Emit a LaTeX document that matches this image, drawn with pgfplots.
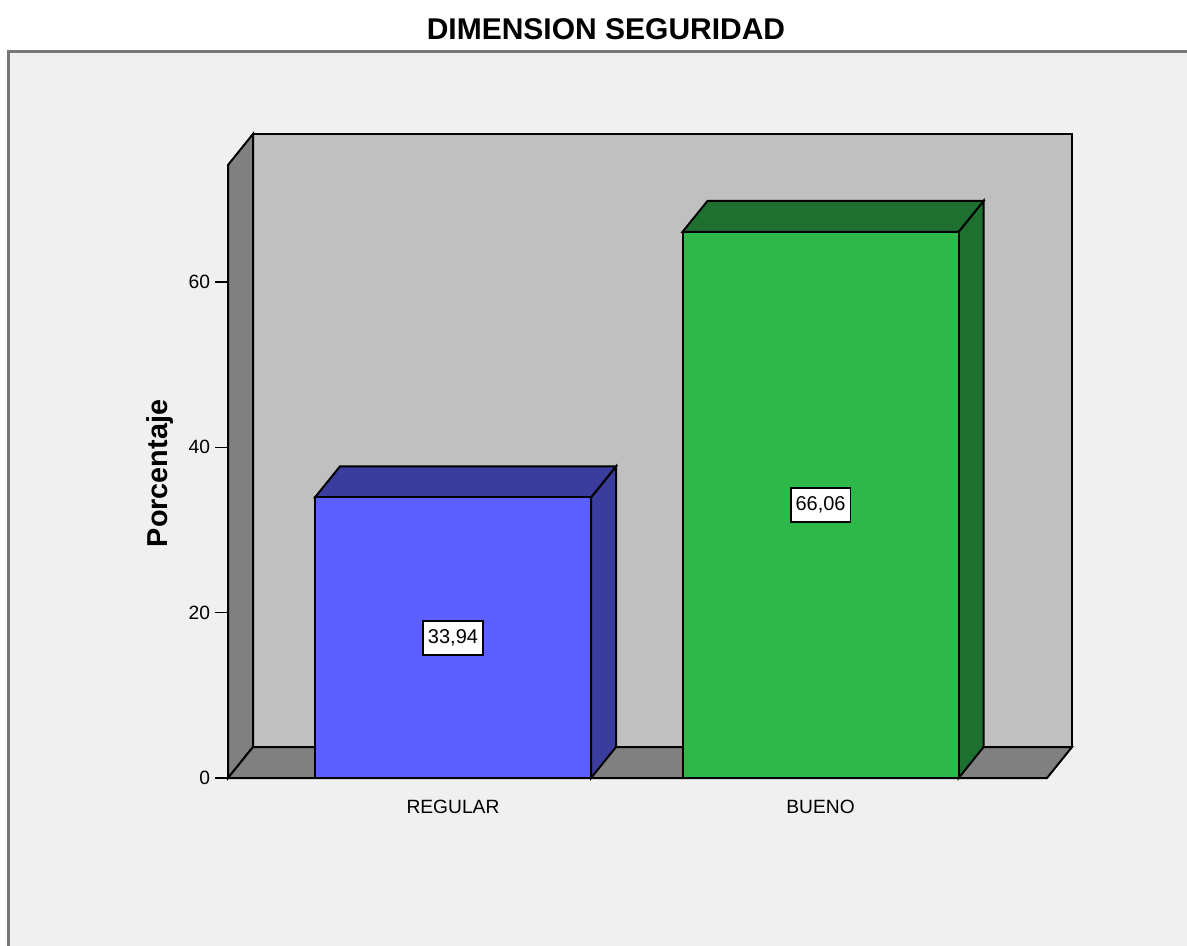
\documentclass[border=0pt]{standalone}
\usepackage{fontspec}
\setmainfont{Liberation Sans}
\usepackage{pgfplots}
\pgfplotsset{compat=1.18}
\definecolor{bgc}{RGB}{240,240,240}
\definecolor{wallback}{RGB}{192,192,192}
\definecolor{wallside}{RGB}{128,128,128}
\definecolor{framec}{RGB}{120,120,120}
\definecolor{regfront}{RGB}{92,96,255}
\definecolor{regside}{RGB}{58,60,158}
\definecolor{buefront}{RGB}{46,184,74}
\definecolor{bueside}{RGB}{30,112,48}
\begin{document}
\begin{tikzpicture}
\useasboundingbox (0,0) rectangle (296.75pt,236.25pt);
\fill[white] (0,0) rectangle (296.75pt,236.25pt);
\draw[fill=bgc, draw=framec, line width=0.75pt] (2.2pt,223.3pt) rectangle (300pt,-5pt);
\node[anchor=base, inner sep=0pt, font=\fontsize{7.5pt}{9pt}\selectfont\bfseries] at (151.5pt,226.25pt) {DIMENSION SEGURIDAD};
\node[anchor=base, rotate=90, inner sep=0pt, font=\fontsize{7.2pt}{9pt}\selectfont\bfseries] at (41.9pt,117.9pt) {Porcentaje};
\begin{axis}[
  at={(57pt,41.75pt)}, anchor=south west,
  width=204.75pt, height=153.25pt, scale only axis,
  xmin=-0.612, xmax=1.616, ymin=0, ymax=74.15,
  clip=false, axis on top,
  axis x line=bottom, axis y line=left,
  axis line style={-, black, line width=0.6pt},
  xtick={0,1}, xticklabels={REGULAR,BUENO},
  ytick={0,20,40,60},
  tick align=outside, major tick length=3.25pt,
  tick style={black, line width=0.4pt},
  x tick style={draw=none},
  xticklabel style={yshift=1.2pt},
  yticklabel style={xshift=2.3pt},
  ticklabel style={font=\fontsize{4.8pt}{5.5pt}\selectfont},
  /pgf/number format/assume math mode=true,
]
% walls (3D frame)
\fill[wallback, draw=black, line width=0.5pt] (axis cs:-0.544,3.75) rectangle (axis cs:1.684,77.9);
\fill[wallside, draw=black, line width=0.5pt] (axis cs:-0.612,0) -- (axis cs:-0.544,3.75) -- (axis cs:-0.544,77.9) -- (axis cs:-0.612,74.15) -- cycle;
\fill[wallside, draw=black, line width=0.5pt] (axis cs:-0.612,0) -- (axis cs:1.616,0) -- (axis cs:1.684,3.75) -- (axis cs:-0.544,3.75) -- cycle;
% REGULAR 33.94
\addplot[fill=regside, draw=black, line width=0.5pt] coordinates {(0.3755,0) (0.4435,3.75) (0.4435,37.69) (0.3755,33.94)} -- cycle;
\addplot[fill=regside, draw=black, line width=0.5pt] coordinates {(-0.3755,33.94) (-0.3075,37.69) (0.4435,37.69) (0.3755,33.94)} -- cycle;
\addplot[ybar, bar width=0.751, fill=regfront, draw=black, line width=0.5pt] coordinates {(0,33.94)};
% BUENO 66.06
\addplot[fill=bueside, draw=black, line width=0.5pt] coordinates {(1.3755,0) (1.4435,3.75) (1.4435,69.81) (1.3755,66.06)} -- cycle;
\addplot[fill=bueside, draw=black, line width=0.5pt] coordinates {(0.6245,66.06) (0.6925,69.81) (1.4435,69.81) (1.3755,66.06)} -- cycle;
\addplot[ybar, bar width=0.751, fill=buefront, draw=black, line width=0.5pt] coordinates {(1,66.06)};
% value labels
\node[fill=white, draw=black, line width=0.45pt, inner xsep=1.2pt, inner ysep=2pt, text height=3.6pt, text depth=0.9pt, font=\fontsize{5pt}{6pt}\selectfont] at (axis cs:0,16.97) {33,94};
\node[fill=white, draw=black, line width=0.45pt, inner xsep=1.2pt, inner ysep=2pt, text height=3.6pt, text depth=0.9pt, font=\fontsize{5pt}{6pt}\selectfont] at (axis cs:1,33.03) {66,06};
\end{axis}
\end{tikzpicture}
\end{document}
